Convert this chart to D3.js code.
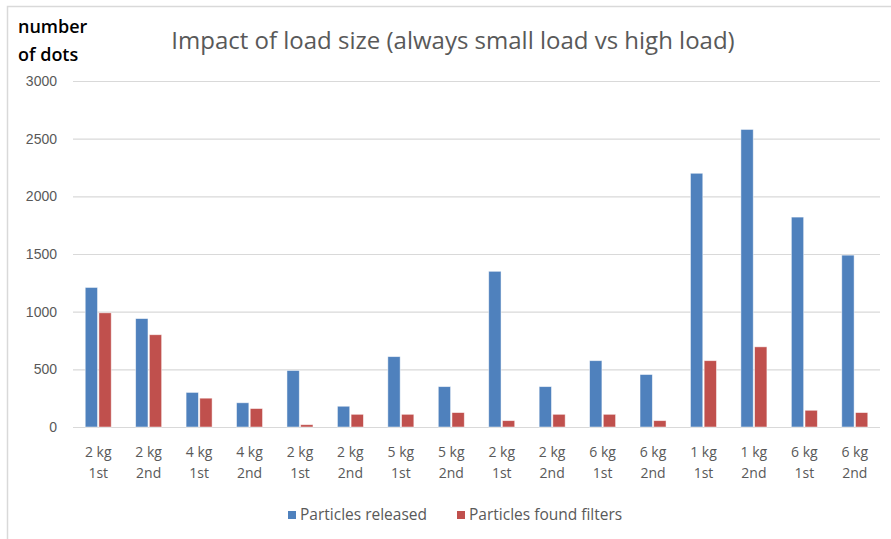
<!DOCTYPE html>
<html>
<head>
<meta charset="utf-8">
<script src="https://cdnjs.cloudflare.com/ajax/libs/d3/7.8.5/d3.min.js"></script>
<style>
  body { margin: 0; background: #fff; }
  svg { display: block; font-family: "Open Sans", "Noto Sans", sans-serif; }
</style>
</head>
<body>
<div class="chart"></div>
<script>
var weights = ['2 kg', '2 kg', '4 kg', '4 kg', '2 kg', '2 kg', '5 kg', '5 kg',
               '2 kg', '2 kg', '6 kg', '6 kg', '1 kg', '1 kg', '6 kg', '6 kg'];
var rounds = ['1st', '2nd', '1st', '2nd', '1st', '2nd', '1st', '2nd',
              '1st', '2nd', '1st', '2nd', '1st', '2nd', '1st', '2nd'];
var released = [1210, 940, 300, 210, 490, 180, 610, 350, 1350, 350, 575, 455, 2200, 2580, 1820, 1490];
var found = [990, 800, 250, 160, 20, 110, 110, 125, 55, 110, 110, 55, 575, 695, 145, 125];
var seriesNames = ['Particles released', 'Particles found filters'];
var colors = ['#4F81BD', '#C0504D'];
var yTicks = [0, 500, 1000, 1500, 2000, 2500, 3000];

var width = 891, height = 539;
var margin = {top: 81, right: 11, bottom: 112, left: 73};
var plotW = width - margin.left - margin.right;
var plotH = height - margin.top - margin.bottom;

var cats = d3.range(weights.length);

var x = d3.scaleBand()
  .domain(cats)
  .range([0, plotW]);

var x1 = d3.scaleBand()
  .domain([0, 1])
  .range([x.bandwidth() / 2 - 13, x.bandwidth() / 2 + 13])
  .paddingInner(0.1);

var y = d3.scaleLinear()
  .domain([0, 3000])
  .range([plotH, 0]);

var svg = d3.select('.chart').append('svg')
  .attr('width', width)
  .attr('height', height);

// frame (only top/left edge visible in the crop)
svg.append('path')
  .attr('d', `M7.5,${height}V6.5H${width}`)
  .style('fill', 'none')
  .style('stroke', '#D9D9D9')
  .style('stroke-width', 1.5);

var g = svg.append('g')
  .attr('transform', `translate(${margin.left}, ${margin.top})`);

// gridlines + y labels
var yAxis = d3.axisLeft(y)
  .tickValues(yTicks)
  .tickFormat(d3.format('d'))
  .tickSize(-plotW)
  .tickPadding(16);

var gY = g.append('g').call(yAxis);
gY.select('.domain').remove();
gY.selectAll('.tick line')
  .style('stroke', '#D9D9D9')
  .style('stroke-width', 1.2);
gY.selectAll('.tick text')
  .style('fill', '#595959')
  .style('font-size', '14px');

// bars
var data = cats.map(i => ({i: i, vals: [released[i], found[i]]}));

var groups = g.selectAll('.cat')
  .data(data)
  .enter().append('g')
    .attr('class', 'cat')
    .attr('transform', d => `translate(${x(d.i)}, 0)`);

groups.selectAll('rect')
  .data(d => d.vals.map((v, k) => ({k: k, v: v})))
  .enter().append('rect')
    .attr('x', d => x1(d.k))
    .attr('width', x1.bandwidth())
    .attr('y', d => y(d.v))
    .attr('height', d => plotH - y(d.v))
    .style('fill', d => colors[d.k])
    .style('stroke', '#fff')
    .style('stroke-opacity', 0.6)
    .style('stroke-width', 0.8);

// x labels
var xl = g.append('g')
  .attr('transform', `translate(0, ${plotH})`);

var lab = xl.selectAll('.xlab')
  .data(cats)
  .enter().append('text')
    .attr('class', 'xlab')
    .attr('text-anchor', 'middle')
    .attr('x', d => x(d) + x.bandwidth() / 2)
    .style('fill', '#595959')
    .style('font-size', '14px');

lab.append('tspan')
  .attr('x', d => x(d) + x.bandwidth() / 2)
  .attr('y', 30)
  .text(d => weights[d]);
lab.append('tspan')
  .attr('x', d => x(d) + x.bandwidth() / 2)
  .attr('y', 51)
  .text(d => rounds[d]);

// title
svg.append('text')
  .attr('x', 453)
  .attr('y', 49)
  .attr('text-anchor', 'middle')
  .style('fill', '#595959')
  .style('font-size', '24px')
  .text('Impact of load size (always small load vs high load)');

// y axis title
var yt = svg.append('text')
  .attr('x', 18)
  .style('fill', '#000')
  .style('font-size', '18px')
  .style('font-weight', '600');
yt.append('tspan').attr('x', 18).attr('y', 33).text('number');
yt.append('tspan').attr('x', 18).attr('y', 61).text('of dots');

// legend
var legend = svg.append('g')
  .attr('transform', 'translate(288, 520)');

var legX = [0, 169];
var item = legend.selectAll('.leg')
  .data(seriesNames)
  .enter().append('g')
    .attr('class', 'leg')
    .attr('transform', (d, k) => `translate(${legX[k]}, 0)`);

item.append('rect')
  .attr('y', -9)
  .attr('width', 8)
  .attr('height', 8)
  .style('fill', (d, k) => colors[k]);

item.append('text')
  .attr('x', 12)
  .style('fill', '#595959')
  .style('font-size', '15.5px')
  .text(d => d);
</script>
</body>
</html>
